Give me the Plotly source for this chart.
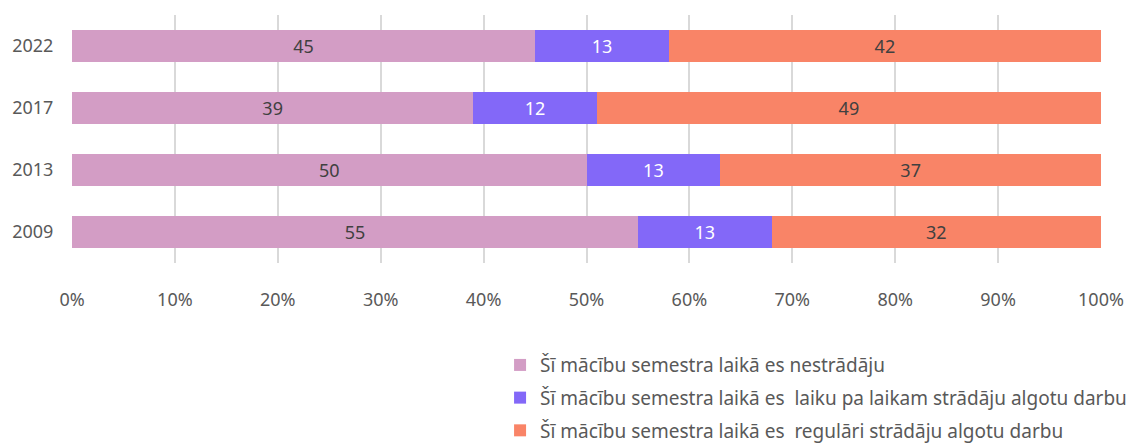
import plotly.graph_objects as go

years = ["2009", "2013", "2017", "2022"]
nestradaju = [55, 50, 39, 45]
laiku_pa_laikam = [13, 13, 12, 13]
regulari = [32, 37, 49, 42]
x_ticks = list(range(0, 101, 10))
x_labels = [f"{t}%" for t in x_ticks]

names = [
    "Šī mācību semestra laikā es nestrādāju",
    "Šī mācību semestra laikā es  laiku pa laikam strādāju algotu darbu",
    "Šī mācību semestra laikā es  regulāri strādāju algotu darbu",
]
colors = ["#D39DC5", "#8368F8", "#F98467"]
text_colors = ["#404040", "#FFFFFF", "#404040"]

fig = go.Figure()
for i, vals in enumerate([nestradaju, laiku_pa_laikam, regulari]):
    fig.add_trace(go.Bar(
        y=years, x=vals, name=names[i], orientation="h",
        marker=dict(color=colors[i], line=dict(width=0)),
        text=[str(v) for v in vals], textposition="inside",
        insidetextanchor="middle", textangle=0, constraintext="none",
        textfont=dict(color=text_colors[i], size=18),
        legendgroup=str(i),
    ))

fig.update_layout(
    barmode="stack",
    bargap=0.47,
    width=1126, height=445,
    margin=dict(l=72, r=25, t=15, b=182, autoexpand=False),
    plot_bgcolor="white", paper_bgcolor="white",
    font=dict(family="Noto Sans", size=18, color="#595959"),
    legend=dict(
        x=0.416, xanchor="left", y=-0.335, yanchor="top",
        traceorder="grouped", tracegroupgap=5,
        font=dict(size=19, color="#595959"),
        itemwidth=30,
    ),
)
fig.update_xaxes(
    range=[0, 100], tickvals=x_ticks, ticktext=x_labels,
    showgrid=True, gridcolor="#D9D9D9", gridwidth=2, zeroline=False,
    ticks="outside", ticklen=20, tickcolor="rgba(0,0,0,0)",
    automargin=False,
)
fig.update_yaxes(
    categoryorder="array", categoryarray=years,
    showgrid=False, ticks="outside", ticklen=14, tickcolor="rgba(0,0,0,0)",
    automargin=False,
)

# togli il margine di default del body, così il grafico riempie la finestra
fig.write_html("out.html", config={"displayModeBar": False},
               post_script="document.body.style.margin='0';")
